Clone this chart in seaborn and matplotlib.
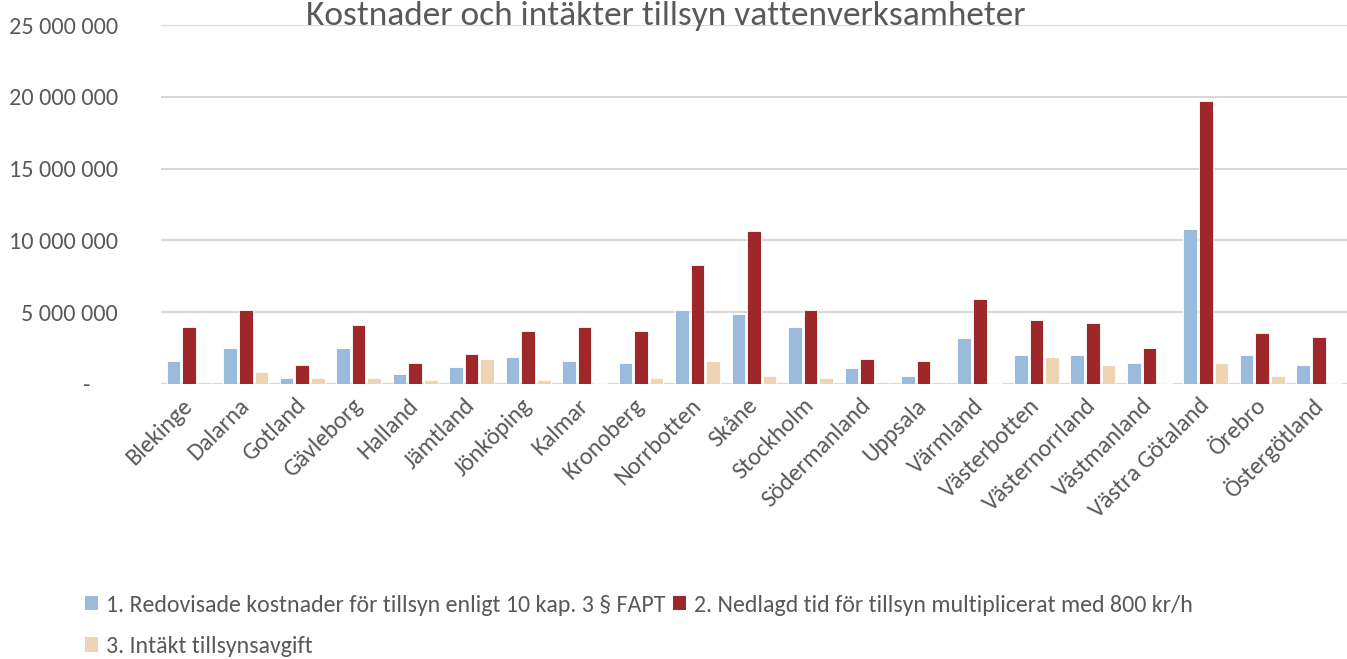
import matplotlib
matplotlib.use("Agg")
import matplotlib.pyplot as plt
import matplotlib.ticker as mticker
from matplotlib.patches import Patch
import seaborn as sns
import pandas as pd

categories = ["Blekinge", "Dalarna", "Gotland", "Gävleborg", "Halland", "Jämtland",
              "Jönköping", "Kalmar", "Kronoberg", "Norrbotten", "Skåne", "Stockholm",
              "Södermanland", "Uppsala", "Värmland", "Västerbotten", "Västernorrland",
              "Västmanland", "Västra Götaland", "Örebro", "Östergötland"]

series_names = ["1. Redovisade kostnader för tillsyn enligt 10 kap. 3 § FAPT",
                "2. Nedlagd tid för tillsyn multiplicerat med 800 kr/h",
                "3. Intäkt tillsynsavgift"]

kostnader = [1600000, 2500000, 420000, 2500000, 700000, 1180000, 1880000, 1600000,
             1460000, 5150000, 4880000, 3970000, 1100000, 560000, 3200000, 2000000,
             2000000, 1460000, 10800000, 2000000, 1320000]
nedlagd_tid = [3970000, 5150000, 1320000, 4100000, 1460000, 2090000, 3690000, 3970000,
               3690000, 8300000, 10660000, 5150000, 1740000, 1600000, 5900000, 4450000,
               4250000, 2500000, 19700000, 3550000, 3270000]
intakt = [140000, 840000, 420000, 420000, 280000, 1740000, 280000, 100000,
          420000, 1600000, 560000, 420000, 140000, 140000, 100000, 1880000,
          1320000, 70000, 1460000, 560000, 70000]

title = "Kostnader och intäkter tillsyn vattenverksamheter"
colors = ["#9BBBDD", "#9E2729", "#EED4B5"]
text_color = "#595959"

rows = []
for name, vals in zip(series_names, [kostnader, nedlagd_tid, intakt]):
    for c, v in zip(categories, vals):
        rows.append({"Län": c, "Serie": name, "Belopp": v})
df = pd.DataFrame(rows)

sns.set_theme(style="white")
plt.rcParams["font.family"] = ["Carlito", "Lato", "DejaVu Sans"]

fig = plt.figure(figsize=(13.47, 6.59), dpi=100)
ax = fig.add_axes([161 / 1347, 1 - 384 / 659, 1 - 161 / 1347, (384 - 25) / 659])

sns.barplot(data=df, x="Län", y="Belopp", hue="Serie", order=categories,
            hue_order=series_names, palette=colors, saturation=1, width=0.83, gap=0.13,
            edgecolor="white", linewidth=0.6, ax=ax, legend=False, zorder=3)

ax.set_ylim(0, 25000000)
ax.set_xlim(-0.5, len(categories) - 0.5)
ax.yaxis.set_major_locator(mticker.MultipleLocator(5000000))


def fmt(v, pos):
    if v == 0:
        return "-     "
    return f"{int(v):,}".replace(",", " ")


ax.yaxis.set_major_formatter(mticker.FuncFormatter(fmt))
ax.grid(axis="y", color="#D9D9D9", linewidth=1.5, zorder=0)
ax.set_axisbelow(True)
for s in ax.spines.values():
    s.set_visible(False)
ax.set_xlabel("")
ax.set_ylabel("")
ax.tick_params(axis="y", length=0, pad=31, labelsize=17.5, labelcolor=text_color)
ax.tick_params(axis="x", length=0, pad=13, labelsize=17.5, labelcolor=text_color)
for lab in ax.get_xticklabels():
    lab.set_rotation(45)
    lab.set_ha("right")
    lab.set_va("center")
    lab.set_rotation_mode("anchor")

fig.text(0.494, 1 - 25 / 659, title, ha="center", va="baseline",
         fontsize=25.5, color=text_color)

handles = [Patch(facecolor=c, edgecolor="none") for c in colors]
order = [0, 2, 1]
fig.legend([handles[i] for i in order], [series_names[i] for i in order],
           ncol=2, loc="upper left",
           bbox_to_anchor=(75 / 1347, 1 - 585 / 659), frameon=False,
           fontsize=17.2, labelcolor=text_color, handlelength=0.55, handleheight=0.55,
           handletextpad=0.35, columnspacing=0.3, labelspacing=0.85, borderaxespad=0)

fig.savefig("out.png", dpi=100)
